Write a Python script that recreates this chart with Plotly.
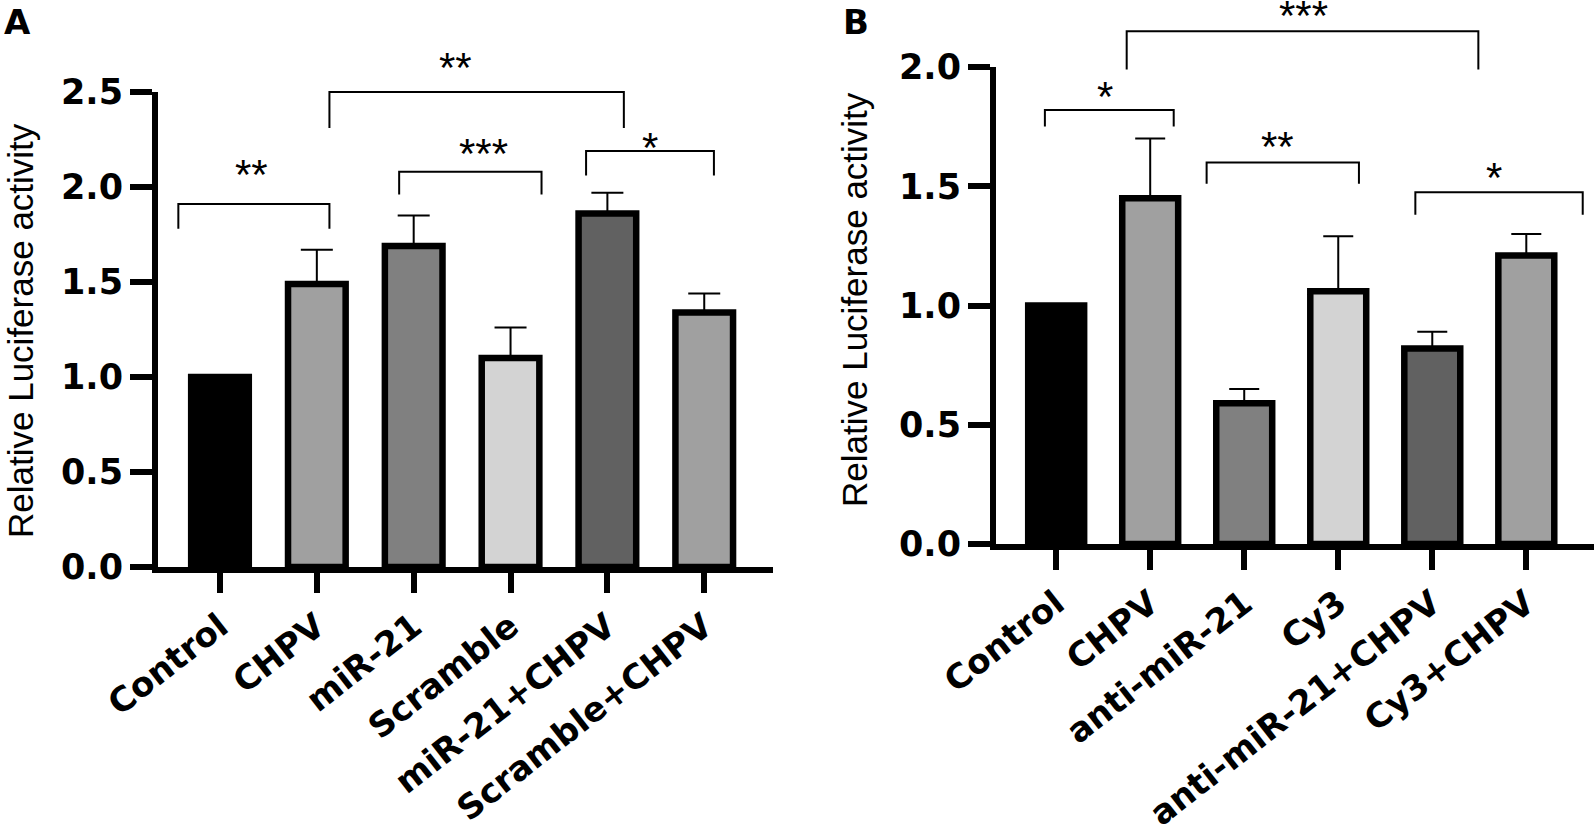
import plotly.graph_objects as go

W, H = 1594, 828

# ---------------- data ----------------
cats_a = ["Control", "CHPV", "miR-21", "Scramble", "miR-21+CHPV", "Scramble+CHPV"]
vals_a = [1.00, 1.49, 1.69, 1.10, 1.86, 1.34]
err_a = [0.0, 0.18, 0.16, 0.16, 0.11, 0.10]

cats_b = ["Control", "CHPV", "anti-miR-21", "Cy3", "anti-miR-21+CHPV", "Cy3+CHPV"]
vals_b = [1.00, 1.45, 0.59, 1.06, 0.82, 1.21]
err_b = [0.0, 0.25, 0.06, 0.23, 0.07, 0.09]

bar_colors = ["#000000", "#a0a0a0", "#808080", "#d3d3d3", "#616161", "#a0a0a0"]

# significance brackets (positions in category units / y units)
brk_a_left = [-0.43, 1.85, 3.78, 1.13]
brk_a_right = [1.13, 3.32, 5.10, 4.17]
brk_a_top = [1.91, 2.08, 2.19, 2.50]
brk_a_foot = [1.78, 1.96, 2.06, 2.31]
brk_a_text = ["**", "***", "*", "**"]
brk_a_tx = [0.33, 2.72, 4.44, 2.43]
brk_a_ty = [2.10, 2.21, 2.24, 2.66]

brk_b_left = [-0.12, 1.60, 3.82, 0.75]
brk_b_right = [1.25, 3.22, 5.60, 4.49]
brk_b_top = [1.82, 1.60, 1.475, 2.15]
brk_b_foot = [1.75, 1.51, 1.38, 1.99]
brk_b_text = ["*", "**", "*", "***"]
brk_b_tx = [0.52, 2.35, 4.66, 2.63]
brk_b_ty = [1.90, 1.69, 1.56, 2.24]

ymax_a = 2.5
ymax_b = 2.0
yticks_a = [0.0, 0.5, 1.0, 1.5, 2.0, 2.5]
yticks_b = [0.0, 0.5, 1.0, 1.5, 2.0]

# ---------------- layout geometry (pixels) ----------------
FONT = "Liberation Sans, Arial, Helvetica, sans-serif"
BOLD_FONT = "DejaVu Sans, Liberation Sans, Arial, sans-serif"

A_x0, A_x1, A_ytop, A_ybot = 158, 773, 92, 567
B_x0, B_x1, B_ytop, B_ybot = 996, 1594, 67, 544


def pdom_x(a, b):
    return [a / W, b / W]


def pdom_y(top, bot):
    return [(H - bot) / H, (H - top) / H]


def bracket_xy(left, right, top, foot):
    xs, ys = [], []
    for l, r, t, f in zip(left, right, top, foot):
        xs += [l, l, r, r, None]
        ys += [f, t, t, f, None]
    return xs, ys


fig = go.Figure()

# Bars
fig.add_trace(go.Bar(
    x=list(range(len(cats_a))), y=vals_a, width=0.595,
    marker=dict(color=bar_colors, line=dict(color="black", width=6.5)),
    error_y=dict(type="data", array=err_a, arrayminus=[0] * len(err_a),
                 symmetric=False, color="black", thickness=2, width=16),
    xaxis="x", yaxis="y", showlegend=False, hoverinfo="skip"))

fig.add_trace(go.Bar(
    x=list(range(len(cats_b))), y=vals_b, width=0.595,
    marker=dict(color=bar_colors, line=dict(color="black", width=6.5)),
    error_y=dict(type="data", array=err_b, arrayminus=[0] * len(err_b),
                 symmetric=False, color="black", thickness=2, width=15),
    xaxis="x2", yaxis="y2", showlegend=False, hoverinfo="skip"))

# Brackets on taller overlay axes
bx, by = bracket_xy(brk_a_left, brk_a_right, brk_a_top, brk_a_foot)
fig.add_trace(go.Scatter(x=bx, y=by, mode="lines", line=dict(color="black", width=2),
                         xaxis="x", yaxis="y3", showlegend=False, hoverinfo="skip"))
bx, by = bracket_xy(brk_b_left, brk_b_right, brk_b_top, brk_b_foot)
fig.add_trace(go.Scatter(x=bx, y=by, mode="lines", line=dict(color="black", width=2),
                         xaxis="x2", yaxis="y4", showlegend=False, hoverinfo="skip"))

annotations = []
for t, x, y in zip(brk_a_text, brk_a_tx, brk_a_ty):
    annotations.append(dict(text=t, x=x, y=y, xref="x", yref="y3", showarrow=False,
                            yshift=-6, font=dict(family=FONT, size=42, color="black")))
for t, x, y in zip(brk_b_text, brk_b_tx, brk_b_ty):
    annotations.append(dict(text=t, x=x, y=y, xref="x2", yref="y4", showarrow=False,
                            yshift=-6, font=dict(family=FONT, size=42, color="black")))

# Panel letters
annotations.append(dict(text="A", x=2 / W, y=1.0, xref="paper", yref="paper",
                        xanchor="left", yanchor="top", showarrow=False,
                        font=dict(family=BOLD_FONT, size=34, color="black", weight="bold")))
annotations.append(dict(text="B", x=841 / W, y=1.0, xref="paper", yref="paper",
                        xanchor="left", yanchor="top", showarrow=False,
                        font=dict(family=BOLD_FONT, size=34, color="black", weight="bold")))

# Y axis titles
annotations.append(dict(text="Relative Luciferase activity", x=20 / W, y=(H - 331) / H,
                        xref="paper", yref="paper", textangle=-90, showarrow=False,
                        xanchor="center", yanchor="middle",
                        font=dict(family=FONT, size=35, color="black")))
annotations.append(dict(text="Relative Luciferase activity", x=854 / W, y=(H - 300) / H,
                        xref="paper", yref="paper", textangle=-90, showarrow=False,
                        xanchor="center", yanchor="middle",
                        font=dict(family=FONT, size=35, color="black")))

ytickfont = dict(family=BOLD_FONT, size=35, color="black", weight="bold")
xtickfont = dict(family=BOLD_FONT, size=34, color="black", weight="bold")

xcommon = dict(showgrid=False, zeroline=False, showline=True, linewidth=6, linecolor="black",
               ticks="outside", ticklen=20, tickwidth=6, tickcolor="black",
               tickangle=-38, tickfont=xtickfont, fixedrange=True, automargin=False)
ycommon = dict(showgrid=False, zeroline=False, showline=True, linewidth=6, linecolor="black",
               ticks="outside", ticklen=22, tickwidth=6, tickcolor="black",
               tickformat=".1f", tickfont=ytickfont, fixedrange=True, automargin=False)

ya_dom = pdom_y(A_ytop, A_ybot)
yb_dom = pdom_y(B_ytop, B_ybot)
ya3_max = ymax_a * A_ybot / (A_ybot - A_ytop)
yb4_max = ymax_b * B_ybot / (B_ybot - B_ytop)

fig.update_layout(
    width=W, height=H, autosize=False,
    margin=dict(l=0, r=0, t=0, b=0, pad=0),
    paper_bgcolor="white", plot_bgcolor="rgba(0,0,0,0)",
    bargap=0.3,
    xaxis=dict(domain=pdom_x(A_x0, A_x1), range=[-0.64, 5.71], anchor="y",
               tickvals=list(range(len(cats_a))), ticktext=cats_a, **xcommon),
    yaxis=dict(domain=ya_dom, range=[0, ymax_a], anchor="x", tickvals=yticks_a, **ycommon),
    xaxis2=dict(domain=pdom_x(B_x0, B_x1), range=[-0.64, 5.72], anchor="y2",
                tickvals=list(range(len(cats_b))), ticktext=cats_b, **xcommon),
    yaxis2=dict(domain=yb_dom, range=[0, ymax_b], anchor="x2", tickvals=yticks_b, **ycommon),
    yaxis3=dict(domain=[ya_dom[0], 1.0], range=[0, ya3_max], anchor="x", visible=False,
                fixedrange=True),
    yaxis4=dict(domain=[yb_dom[0], 1.0], range=[0, yb4_max], anchor="x2", visible=False,
                fixedrange=True),
    annotations=annotations,
)

fig.write_html("out.html", config={"displayModeBar": False},
               post_script="document.body.style.margin='0px';"
                           "document.body.style.overflow='hidden';")
